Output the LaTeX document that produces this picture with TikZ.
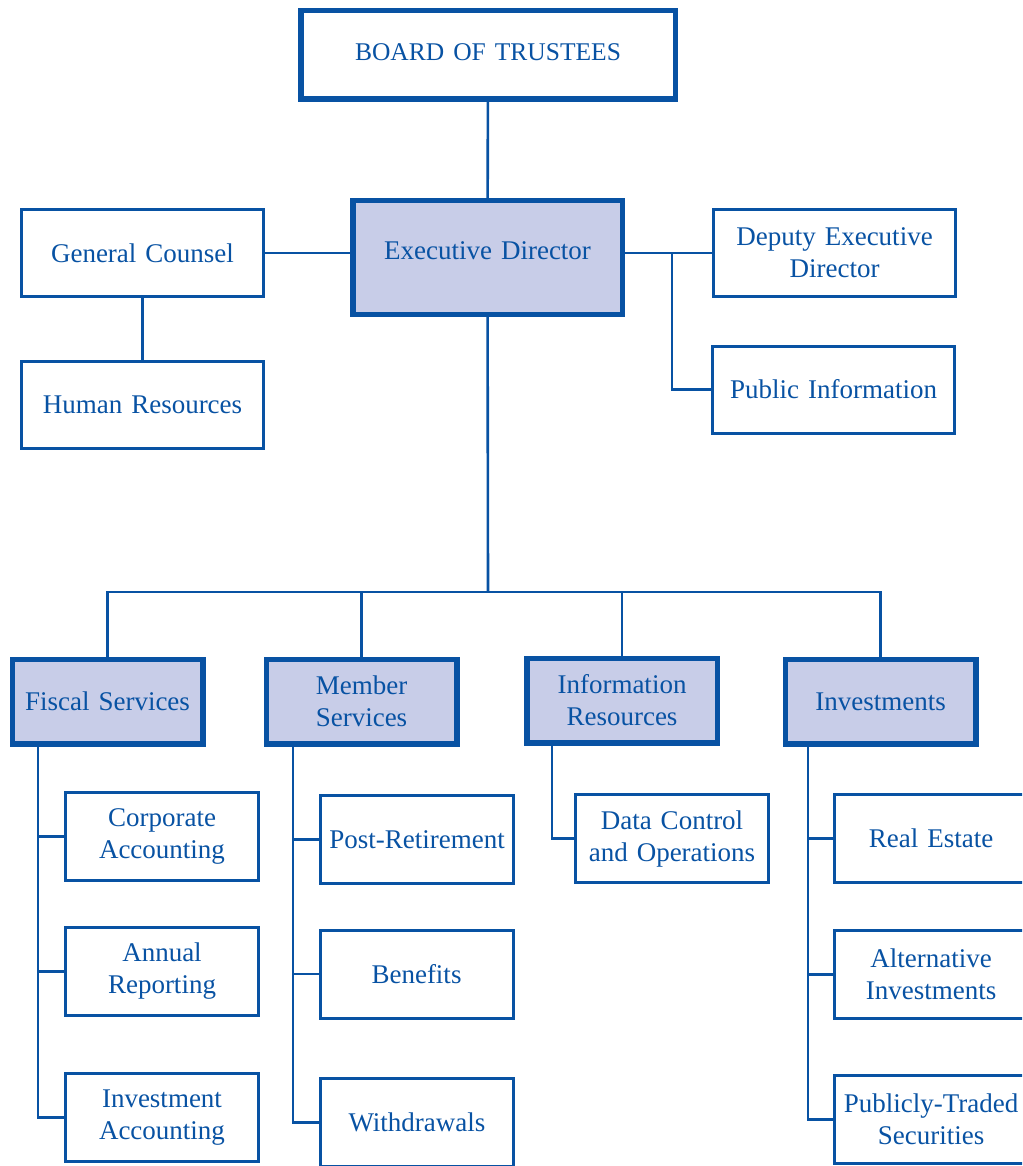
\documentclass[tikz,border=0pt]{standalone}
\usepackage{fontspec}
\setmainfont{Liberation Serif}
\definecolor{orgblue}{RGB}{8,82,163}
\definecolor{orgfill}{RGB}{200,205,232}
\newcommand\orgfont{\fontsize{27}{32}\selectfont\spaceskip=9pt\relax}
\begin{document}
\begin{tikzpicture}[x=1pt, y=-1pt, every node/.style={align=center,text=orgblue,inner sep=0pt,font=\orgfont},
    office/.style={draw=orgblue,line width=3pt,minimum width=242pt,minimum height=87pt},
    head/.style={draw=orgblue,line width=5.5pt,fill=orgfill,minimum width=190.5pt,minimum height=84.5pt},
    unit/.style={draw=orgblue,line width=3pt,minimum width=193pt,minimum height=88pt},
    link/.style={draw=orgblue,line width=2.6pt}]
          \useasboundingbox (0,0) rectangle (1022,1166);
          \clip (0,0) rectangle (1022,1166);
          \node [draw=orgblue,line width=5.5pt,minimum width=374.5pt,minimum height=88.5pt,font=\orgfont\fontsize{25.5}{32}\selectfont] (board) at (488,55) {BOARD OF TRUSTEES\\[-26pt]};
          \node [head,minimum width=269.5pt,minimum height=113.5pt] (exec) at (487.5,257.5) {Executive Director\\[-18pt]};
          \node [office] (counsel) at (142.5,253) {General Counsel};
          \node [office] (hr) at (142.5,405) {Human Resources};
          \node [office] (deputy) at (834.5,253) {Deputy Executive\\Director};
          \node [office] (public) at (833.5,389.5) {Public Information};
          \node [head] (fiscal) at (107.5,701.5) {Fiscal Services};
          \node [head] (member) at (361.5,701.5) {Member\\Services};
          \node [head] (info) at (622,700.5) {Information\\Resources};
          \node [head] (invest) at (880.5,701.5) {Investments};
          \node [unit] (corp) at (162,836.5) {Corporate\\Accounting};
          \node [unit] (annual) at (162,971.5) {Annual\\Reporting};
          \node [unit] (invacc) at (162,1117.5) {Investment\\Accounting};
          \node [unit] (postret) at (417,839.5) {Post-Retirement};
          \node [unit] (benefits) at (416.5,974) {Benefits};
          \node [unit] (withdraw) at (417,1122.5) {Withdrawals};
          \node [unit] (datactl) at (672,838.5) {Data Control\\and Operations};
          \node [unit] (realest) at (931,838.5) {Real Estate};
          \node [unit] (altinv) at (931,974.5) {Alternative\\Investments};
          \node [unit] (pubsec) at (931,1119.5) {Publicly-Traded\\Securities};
          \coordinate (depjoin) at (672,253);
          \coordinate (bus) at (488,592);
          \coordinate (fspine) at (38,746);
          \coordinate (mspine) at (293,746);
          \coordinate (ispine) at (552,746);
          \coordinate (vspine) at (808,746);
          \draw [link] (board) -- (exec);
          \draw [link] (counsel) -- (counsel -| exec.west);
          \draw [link] (counsel) -- (hr);
          \draw [link] (deputy -| exec.east) -- (deputy);
          \draw [link] (depjoin) |- (public);
          \draw [link] (exec) -- (bus);
          \draw [link] (fiscal) |- (bus) -| (invest);
          \draw [link] (member) -- (member |- bus);
          \draw [link] (info) -- (info |- bus);
          \draw [link] (fspine) |- (invacc);
          \draw [link] (corp) -- (corp -| fspine);
          \draw [link] (annual) -- (annual -| fspine);
          \draw [link] (mspine) |- (withdraw);
          \draw [link] (postret) -- (postret -| mspine);
          \draw [link] (benefits) -- (benefits -| mspine);
          \draw [link] (ispine) |- (datactl);
          \draw [link] (vspine) |- (pubsec);
          \draw [link] (realest) -- (realest -| vspine);
          \draw [link] (altinv) -- (altinv -| vspine);
        \end{tikzpicture}
\end{document}
